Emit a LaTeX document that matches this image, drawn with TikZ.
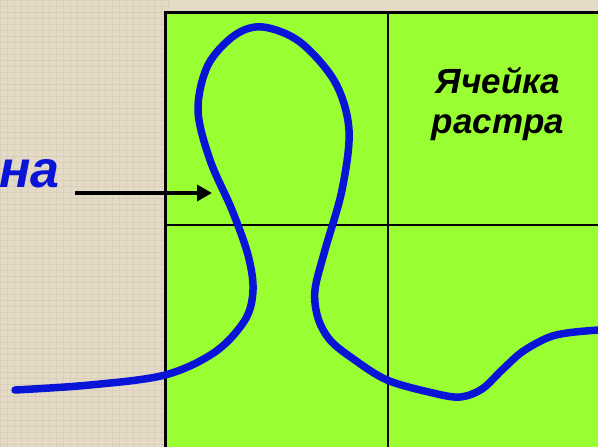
\documentclass[tikz,border=0pt]{standalone}
\usepackage{fontspec}
\setmainfont{Liberation Sans}
\usetikzlibrary{arrows.meta}
\definecolor{canvas}{RGB}{228,218,198}
\definecolor{weave}{RGB}{200,188,165}
\definecolor{cellgreen}{RGB}{153,255,51}
\definecolor{curveblue}{RGB}{10,20,215}

\begin{document}
\begin{tikzpicture}[x=1pt, y=-1pt,
  gridline/.style={line width=2pt},
  arrowline/.style={line width=3.5pt, -{Triangle[length=15pt, width=16pt]}},
  curveline/.style={curveblue, line width=7.5pt, line cap=round},
  celltext/.style={font=\bfseries\itshape\fontsize{35}{40}\selectfont, align=center, inner sep=0pt}]
  \useasboundingbox (0,0) rectangle (598,447);
  \clip (0,0) rectangle (598,447);
  \fill[canvas] (0,0) rectangle (598,447);
  % cloth texture
  \foreach \k in {0,6,...,447} \draw[weave, opacity=0.35, line width=1pt] (0,\k) -- (170,\k);
  \foreach \k in {0,7,...,170} \draw[weave, opacity=0.3, line width=1pt] (\k,0) -- (\k,447);
  % raster cells
  \fill[cellgreen] (165,12) rectangle (610,460);
  \draw[line width=3pt] (165,460) -- (165,12) -- (610,12);
  \draw[gridline] (388,12) -- (388,460);
  \draw[gridline] (165,225) -- (610,225);
  % the line
  \draw[curveline] plot[smooth, tension=0.55] coordinates {
    (15,390) (90,385) (165,375) (215,352) (245,320) (253,290) (248,255)
    (232,210) (210,160) (198,110) (208,65) (235,35) (263,27) (300,42)
    (335,82) (349,130) (342,190) (325,250) (315,290) (318,318) (330,340)
    (352,358) (387,380) (433,393) (460,397) (482,389) (502,370) (522,352)
    (547,338) (567,333) (598,330) (620,329)};
  \node[celltext] (cell) at (498,104) {Ячейка\\растра};
  \node[anchor=base east, inner sep=0pt, text=curveblue,
    font=\bfseries\itshape\fontsize{52}{60}\selectfont] (name) at (60,187) {на};
  \coordinate (tail) at (75,193);
  \coordinate (tip) at (212,193);
  \draw[arrowline] (tail) -- (tip);
\end{tikzpicture}
\end{document}
